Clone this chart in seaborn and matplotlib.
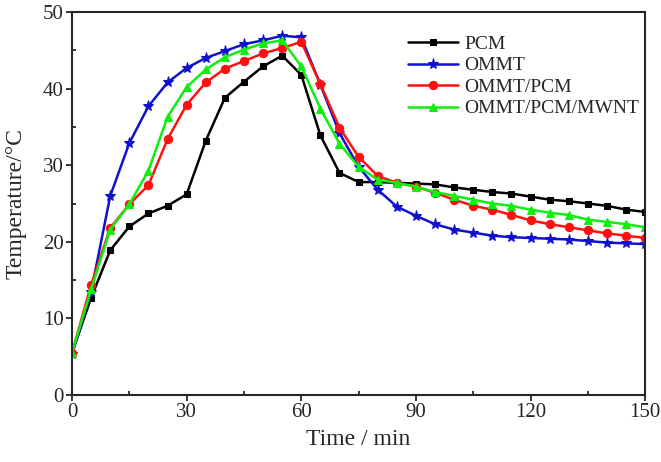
import numpy as np
import pandas as pd
import matplotlib
matplotlib.use("Agg")
import matplotlib.pyplot as plt
from matplotlib.ticker import MultipleLocator
import seaborn as sns

time_min = list(range(0, 155, 5))

pcm = [5.5, 12.7, 18.9, 22.0, 23.7, 24.7, 26.2, 33.2, 38.8, 40.9, 42.9, 44.3,
       41.8, 33.9, 29.0, 27.8, 27.8, 27.7, 27.6, 27.5, 27.1, 26.8, 26.5, 26.3,
       25.9, 25.5, 25.3, 25.0, 24.7, 24.2, 23.9]
ommt = [5.3, 13.5, 26.0, 32.9, 37.7, 40.8, 42.7, 44.0, 44.9, 45.8, 46.3, 46.9,
        46.7, 40.5, 34.2, 29.8, 26.8, 24.6, 23.4, 22.3, 21.6, 21.2, 20.8, 20.6,
        20.5, 20.4, 20.3, 20.1, 19.9, 19.8, 19.7]
ommt_pcm = [5.5, 14.4, 21.8, 24.9, 27.4, 33.4, 37.9, 40.8, 42.6, 43.6, 44.6, 45.3,
            46.1, 40.6, 34.9, 31.1, 28.6, 27.7, 27.2, 26.4, 25.5, 24.7, 24.2, 23.5,
            22.8, 22.3, 21.9, 21.5, 21.1, 20.8, 20.5]
ommt_pcm_mwnt = [5.5, 13.8, 21.6, 24.9, 29.3, 36.3, 40.2, 42.5, 44.1, 45.1, 45.9, 46.3,
                 42.9, 37.4, 32.8, 29.8, 28.1, 27.7, 27.2, 26.5, 26.0, 25.5, 25.0, 24.7,
                 24.2, 23.8, 23.5, 22.9, 22.6, 22.3, 21.9]

labels = ["PCM", "OMMT", "OMMT/PCM", "OMMT/PCM/MWNT"]
colors = ["#000000", "#1010d0", "#ff1010", "#10ee10"]
markers = ["s", "*", "o", "^"]
msizes = [5, 8, 6, 6]

sns.set_style("ticks")
plt.rcParams["font.family"] = ["Liberation Serif", "DejaVu Serif"]

fig = plt.figure(figsize=(6.61, 4.62), dpi=100)
ax = fig.add_axes([0.109, 0.145, 0.867, 0.829])

series = [pcm, ommt, ommt_pcm, ommt_pcm_mwnt]
for vals, lab, col, mk, ms in zip(series, labels, colors, markers, msizes):
    df = pd.DataFrame({"time": time_min, "temp": vals})
    sns.lineplot(data=df, x="time", y="temp", ax=ax, color=col, marker=mk,
                 markersize=ms, markeredgecolor=col, linewidth=1.8, label=lab)

ax.set_xlim(0, 150)
ax.set_ylim(0, 50)
ax.xaxis.set_major_locator(MultipleLocator(30))
ax.xaxis.set_minor_locator(MultipleLocator(15))
ax.yaxis.set_major_locator(MultipleLocator(10))
ax.yaxis.set_minor_locator(MultipleLocator(5))
ax.tick_params(which="major", direction="out", length=4, width=1.3, labelsize=15, pad=2)
ax.tick_params(which="minor", direction="in", length=3, width=1.3)
for sp in ax.spines.values():
    sp.set_linewidth(1.5)
    sp.set_visible(True)

ax.set_xlabel("Time / min", fontsize=17, labelpad=5)
ax.set_ylabel("Temperature/\u00b0C", fontsize=17, labelpad=12)

ax.legend(loc="upper right", bbox_to_anchor=(1.02, 0.985), frameon=False, fontsize=14,
          handlelength=2.6, handletextpad=0.3, labelspacing=0.2)

fig.savefig("out.png", dpi=100)
